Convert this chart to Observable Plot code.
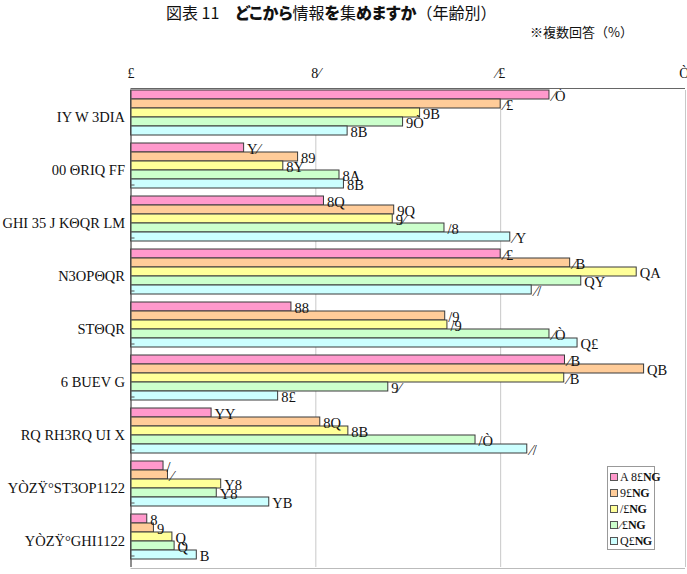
<!DOCTYPE html>
<html><head><meta charset="utf-8">
<script src="https://cdn.jsdelivr.net/npm/d3@7"></script>
<script src="https://cdn.jsdelivr.net/npm/@observablehq/plot@0.6"></script>
<style>
html,body{margin:0;padding:0;background:#fff;}
body{width:687px;height:574px;overflow:hidden;position:relative;font-family:"Noto Sans CJK JP",sans-serif;color:#111;}
#hdr{position:relative;height:45px;}
#title{position:absolute;left:166px;top:0px;font-size:16px;line-height:normal;white-space:nowrap;font-weight:400;}
#title b{font-weight:900;font-feature-settings:"palt";}
#note{position:absolute;left:530px;top:22px;font-size:13px;line-height:normal;white-space:nowrap;}
#legend{position:absolute;left:607px;top:466px;width:48px;height:84px;border:1px solid #999;background:#fff;box-sizing:border-box;padding:2px 0 0 2px;font-family:"Liberation Serif",serif;font-size:12px;}
#legend .it{display:flex;align-items:center;height:16px;white-space:nowrap;}
#legend .sw{width:6px;height:6px;border:1px solid #555;margin-right:2px;flex:none;}
#legend b{font-weight:900;letter-spacing:-0.5px;}
svg{display:block;}
</style></head>
<body>
<div id="hdr">
  <div id="title">図表 11　<b>どこから</b>情報<b>を</b>集<b>めますか</b>（年齢別）</div>
  <div id="note">※複数回答（%）</div>
</div>
<div id="chart"></div>
<div id="legend"></div>
<script>
// Categories (as shown in the reference)
const categories = ["IY W 3DIA","00 ΘRIQ FF","GHI 35 J KΘQR LM","N3OPΘQR","STΘQR","6 BUEV G","RQ RH3RQ UI X","YÒZŸ°ST3OP1122","YÒZŸ°GHI1122"];
const seriesKeys = ["20","30","40","50","60"];
const legendPrefix = ["A 8£","9£","/£","⁄£","Q£"];
const legendSuffix = "NG";
const seriesColors = ["#FF99CC","#FFCC99","#FFFF99","#CCFFCC","#CCFFFF"];
// Values (%) per series, one per category
const age20 = [56.6, 15.3, 26.1, 50.0, 21.7, 58.7, 10.9, 4.4, 2.2];
const age30 = [50.0, 22.6, 35.6, 59.4, 42.5, 69.4, 25.6, 5.0, 3.1];
const age40 = [39.1, 20.6, 35.4, 68.4, 42.8, 58.6, 29.4, 12.2, 5.6];
const age50 = [36.8, 28.2, 42.4, 60.9, 56.6, 34.8, 46.6, 11.6, 5.9];
const age60 = [29.3, 28.8, 51.3, 54.2, 60.4, 19.9, 53.6, 18.7, 8.9];
const xTicks = [0, 25, 50, 75];
// digit glyphs as they appear in the reference
const digitGlyphs = ["£","Y","8","9","/","⁄","Q","Ò","A","B"];

const seriesValues = [age20, age30, age40, age50, age60];
const fmt = v => String(Math.round(v)).replace(/\d/g, c => digitGlyphs[+c]);
const data = categories.flatMap((c, i) => seriesKeys.map((s, j) => ({cat: c, s, v: seriesValues[j][i]})));

const W = 687, H = 529, mL = 130.5, mR = 2, mT = 44, mB = 6;
const serif = "Liberation Serif";
const plot = Plot.plot({
  width: W, height: H,
  marginLeft: mL, marginRight: mR, marginTop: mT, marginBottom: mB,
  style: {background: "#fff", overflow: "visible"},
  x: {domain: [0, 75], axis: null},
  fy: {domain: categories, padding: 0, axis: null},
  y: {domain: seriesKeys, paddingInner: 0, paddingOuter: 0.3, align: 0, axis: null},
  color: {domain: seriesKeys, range: seriesColors},
  marks: [
    Plot.gridX(xTicks, {stroke: "#c8c8c8", strokeOpacity: 1, strokeWidth: 1}),
    Plot.barX(data, {fy: "cat", y: "s", x: "v", fill: "s", stroke: "#3a3a3a", strokeWidth: 1}),
    Plot.text(data, {fy: "cat", y: "s", x: "v", text: d => fmt(d.v), textAnchor: "start", dx: 3, dy: 1, fontSize: 14.5, fontFamily: serif, fill: "#111"}),
    Plot.ruleX([0], {stroke: "#555", strokeWidth: 1.2}),
    Plot.axisX({anchor: "top", ticks: xTicks, tickFormat: fmt, tickSize: 0, tickPadding: 13, fontSize: 14, fontFamily: serif, label: null, fill: "#111"}),
    Plot.axisFy({anchor: "left", tickSize: 0, tickPadding: 6, fontSize: 14.5, fontFamily: serif, label: null, fill: "#111"})
  ]
});
document.getElementById("chart").appendChild(plot);

// frame lines and group-boundary ticks
const xs = plot.scale("x"), fys = plot.scale("fy");
const svg = d3.select(plot);
const x0 = xs.apply(0), x1 = xs.apply(75);
svg.append("line").attr("x1", x0).attr("x2", x1).attr("y1", mT - 0.5).attr("y2", mT - 0.5).attr("stroke", "#666").attr("stroke-width", 1.2);
svg.append("line").attr("x1", x0).attr("x2", x1).attr("y1", H - mB + 0.5).attr("y2", H - mB + 0.5).attr("stroke", "#bbb");
categories.slice(1).forEach(c => {
  const y = fys.apply(c) + mT - 2;
  svg.append("line").attr("x1", x0).attr("x2", x0 + 4).attr("y1", y).attr("y2", y).attr("stroke", "#555");
});
// keep long category labels inside the left margin
const maxLabel = mL - 8;
svg.selectAll("[aria-label^='fy-axis'] text").each(function() {
  if (this.getComputedTextLength() > maxLabel) {
    this.setAttribute("textLength", maxLabel);
    this.setAttribute("lengthAdjust", "spacingAndGlyphs");
  }
});

// legend
const lg = document.getElementById("legend");
seriesKeys.forEach((s, i) => {
  const it = document.createElement("div"); it.className = "it";
  it.innerHTML = `<span class="sw" style="background:${seriesColors[i]}"></span><span>${legendPrefix[i]}<b>${legendSuffix}</b></span>`;
  lg.appendChild(it);
});
</script>
</body></html>
